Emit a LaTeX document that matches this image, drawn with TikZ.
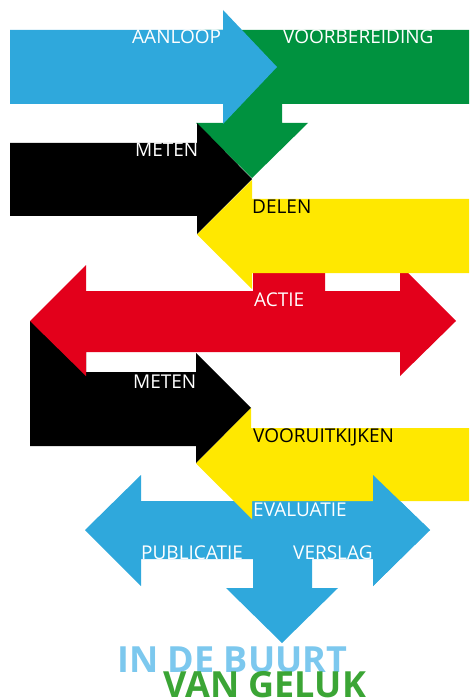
\documentclass[tikz,border=0pt]{standalone}
\usepackage{fontspec}
\setmainfont{Open Sans}
\definecolor{cblue}{HTML}{2FA8DC}
\definecolor{cgreen}{HTML}{00923F}
\definecolor{cyellow}{HTML}{FFE800}
\definecolor{cred}{HTML}{E3001B}
\definecolor{tblue}{HTML}{7CC8EE}
\definecolor{tgreen}{HTML}{3BA535}
\tikzset{
  lbl/.style={anchor=base west, inner sep=0pt, font=\fontsize{19}{19}\selectfont, text=white},
  dlbl/.style={lbl, text=black},
  title/.style={anchor=base west, inner sep=0pt, font=\fontsize{36}{36}\selectfont\bfseries}
}
\begin{document}
\begin{tikzpicture}[x=1pt,y=-1pt]
\useasboundingbox (0,0) rectangle (469,700);
% green (voorbereiding)
\fill[cgreen] (200,30) -- (469,30) -- (469,104) -- (282,104) -- (282,123) -- (308,123) -- (252,178) -- (196,123) -- (223,123) -- (223,104) -- (200,104) -- cycle;
% blue (aanloop)
\fill[cblue] (10,30) -- (223,30) -- (223,10) -- (277,67) -- (223,124) -- (223,104) -- (10,104) -- cycle;
% black 1 (meten)
\fill[black] (10,143) -- (197,143) -- (197,123) -- (252,179) -- (197,234) -- (197,216) -- (10,216) -- cycle;
% black 2 (meten)
\fill[black] (30,321) -- (86,321) -- (86,372) -- (196,372) -- (196,353) -- (251,408) -- (196,463) -- (196,446) -- (30,446) -- cycle;
% red (actie)
\fill[cred] (30,321) -- (86,265) -- (86,291) -- (253,291) -- (253,260) -- (325,260) -- (325,291) -- (400,291) -- (400,265) -- (456,321) -- (400,376) -- (400,352) -- (86,352) -- (86,376) -- cycle;
% yellow 1 (delen)
\fill[cyellow] (469,199) -- (252,199) -- (252,180) -- (197,234.5) -- (252,289) -- (252,273) -- (469,273) -- cycle;
% blue bottom
\fill[cblue] (85,530) -- (141,475) -- (141,501) -- (373,501) -- (373,475) -- (430,530) -- (373,586) -- (373,559) -- (312,559) -- (312,588) -- (338,588) -- (282,643) -- (226,588) -- (253,588) -- (253,559) -- (141,559) -- (141,586) -- cycle;
% yellow 2 (vooruitkijken)
\fill[cyellow] (469,428) -- (251,428) -- (251,408) -- (196,463.5) -- (252,519) -- (252,501) -- (469,501) -- cycle;
% blue right head on top
\fill[cblue] (373,475) -- (430,530) -- (373,586) -- cycle;
% labels
\node[lbl] (aanloop) at (132,44) {AANLOOP};
\node[lbl] (voorb) at (283,44) {VOORBEREIDING};
\node[lbl] (meten1) at (135,157) {METEN};
\node[dlbl] (delen) at (252,214) {DELEN};
\node[lbl] (actie) at (254,306) {ACTIE};
\node[lbl] (meten2) at (133,388) {METEN};
\node[dlbl] (vooruit) at (253,442) {VOORUITKIJKEN};
\node[lbl] (evaluatie) at (253,516) {EVALUATIE};
\node[lbl] (publicatie) at (141,559) {PUBLICATIE};
\node[lbl] (verslag) at (293,559) {VERSLAG};
\node[title, text=tblue] (buurt) at (117,672) {IN DE BUURT};
\node[title, text=tgreen] (geluk) at (163,697) {VAN GELUK};
\end{tikzpicture}
\end{document}
